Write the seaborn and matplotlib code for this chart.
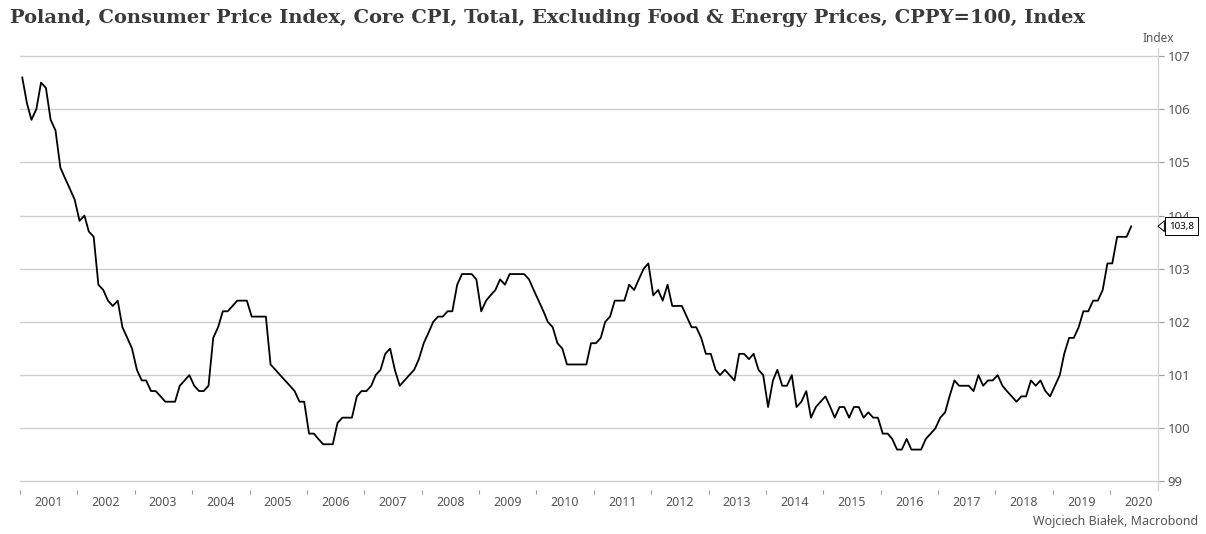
import matplotlib

matplotlib.use("Agg")

import matplotlib.dates as mdates
import matplotlib.pyplot as plt
import matplotlib.ticker as mticker
import pandas as pd
import seaborn as sns


TITLE = "Poland, Consumer Price Index, Core CPI, Total, Excluding Food & Energy Prices, CPPY=100, Index"
SOURCE = "Wojciech Białek, Macrobond"
UNIT_LABEL = "Index"
START_MONTH = "2001-01"

# monthly values, CPPY=100
CPI_2001 = [106.6, 106.1, 105.8, 106.0, 106.5, 106.4, 105.8, 105.6, 104.9, 104.7, 104.5, 104.3]
CPI_2002 = [103.9, 104.0, 103.7, 103.6, 102.7, 102.6, 102.4, 102.3, 102.4, 101.9, 101.7, 101.5]
CPI_2003 = [101.1, 100.9, 100.9, 100.7, 100.7, 100.6, 100.5, 100.5, 100.5, 100.8, 100.9, 101.0]
CPI_2004 = [100.8, 100.7, 100.7, 100.8, 101.7, 101.9, 102.2, 102.2, 102.3, 102.4, 102.4, 102.4]
CPI_2005 = [102.1, 102.1, 102.1, 102.1, 101.2, 101.1, 101.0, 100.9, 100.8, 100.7, 100.5, 100.5]
CPI_2006 = [99.9, 99.9, 99.8, 99.7, 99.7, 99.7, 100.1, 100.2, 100.2, 100.2, 100.6, 100.7]
CPI_2007 = [100.7, 100.8, 101.0, 101.1, 101.4, 101.5, 101.1, 100.8, 100.9, 101.0, 101.1, 101.3]
CPI_2008 = [101.6, 101.8, 102.0, 102.1, 102.1, 102.2, 102.2, 102.7, 102.9, 102.9, 102.9, 102.8]
CPI_2009 = [102.2, 102.4, 102.5, 102.6, 102.8, 102.7, 102.9, 102.9, 102.9, 102.9, 102.8, 102.6]
CPI_2010 = [102.4, 102.2, 102.0, 101.9, 101.6, 101.5, 101.2, 101.2, 101.2, 101.2, 101.2, 101.6]
CPI_2011 = [101.6, 101.7, 102.0, 102.1, 102.4, 102.4, 102.4, 102.7, 102.6, 102.8, 103.0, 103.1]
CPI_2012 = [102.5, 102.6, 102.4, 102.7, 102.3, 102.3, 102.3, 102.1, 101.9, 101.9, 101.7, 101.4]
CPI_2013 = [101.4, 101.1, 101.0, 101.1, 101.0, 100.9, 101.4, 101.4, 101.3, 101.4, 101.1, 101.0]
CPI_2014 = [100.4, 100.9, 101.1, 100.8, 100.8, 101.0, 100.4, 100.5, 100.7, 100.2, 100.4, 100.5]
CPI_2015 = [100.6, 100.4, 100.2, 100.4, 100.4, 100.2, 100.4, 100.4, 100.2, 100.3, 100.2, 100.2]
CPI_2016 = [99.9, 99.9, 99.8, 99.6, 99.6, 99.8, 99.6, 99.6, 99.6, 99.8, 99.9, 100.0]
CPI_2017 = [100.2, 100.3, 100.6, 100.9, 100.8, 100.8, 100.8, 100.7, 101.0, 100.8, 100.9, 100.9]
CPI_2018 = [101.0, 100.8, 100.7, 100.6, 100.5, 100.6, 100.6, 100.9, 100.8, 100.9, 100.7, 100.6]
CPI_2019 = [100.8, 101.0, 101.4, 101.7, 101.7, 101.9, 102.2, 102.2, 102.4, 102.4, 102.6, 103.1]
CPI_2020 = [103.1, 103.6, 103.6, 103.6, 103.8]

Y_TICKS = [99, 100, 101, 102, 103, 104, 105, 106, 107]


def build_frame() -> pd.DataFrame:
    values = (
        CPI_2001 + CPI_2002 + CPI_2003 + CPI_2004 + CPI_2005 + CPI_2006 + CPI_2007
        + CPI_2008 + CPI_2009 + CPI_2010 + CPI_2011 + CPI_2012 + CPI_2013 + CPI_2014
        + CPI_2015 + CPI_2016 + CPI_2017 + CPI_2018 + CPI_2019 + CPI_2020
    )
    dates = pd.date_range(START_MONTH, periods=len(values), freq="MS") + pd.Timedelta(days=14)
    return pd.DataFrame({"date": dates, "value": values})


def main() -> None:
    df = build_frame()

    sns.set_theme(style="white")
    plt.rcParams["font.family"] = ["Noto Sans", "DejaVu Sans"]

    fig = plt.figure(figsize=(12.06, 5.34), dpi=100)
    ax = fig.add_axes([20 / 1206, 44 / 534, 1138 / 1206, 442 / 534])

    sns.lineplot(data=df, x="date", y="value", color="black", linewidth=1.3, ax=ax)

    ax.set_xlim(pd.Timestamp("2001-01-01"), pd.Timestamp("2020-11-01"))
    ax.set_ylim(98.84, 107.15)
    ax.set_xlabel("")
    ax.set_ylabel("")

    # right-hand value axis
    ax.yaxis.tick_right()
    ax.set_yticks(Y_TICKS)
    ax.grid(axis="y", color="#cfcfcf", linewidth=1.0)
    ax.grid(axis="x", visible=False)
    ax.tick_params(axis="y", right=True, length=4, width=0.8, color="#9a9a9a",
                   labelcolor="#555555", labelsize=9.5, pad=3)

    # years: ticks at year starts, labels centred in each year
    ax.xaxis.set_major_locator(mdates.YearLocator())
    ax.xaxis.set_major_formatter(mticker.NullFormatter())
    ax.xaxis.set_minor_locator(mdates.MonthLocator(bymonth=7, bymonthday=1))
    ax.xaxis.set_minor_formatter(mdates.DateFormatter("%Y"))
    ax.tick_params(axis="x", which="major", bottom=True, length=3, width=0.8, color="#9a9a9a")
    ax.tick_params(axis="x", which="minor", bottom=True, length=0, labelcolor="#555555",
                   labelsize=9, pad=4)

    for side in ["left", "top", "bottom"]:
        ax.spines[side].set_visible(False)
    ax.spines["right"].set_color("#d5d5d5")
    ax.spines["right"].set_linewidth(1.0)

    last = df["value"].iloc[-1]
    ax.annotate(
        f"{last:.1f}".replace(".", ","),
        xy=(1.0, last), xycoords=("axes fraction", "data"),
        xytext=(8, 0), textcoords="offset points",
        ha="left", va="center", fontsize=7, color="black",
        bbox=dict(boxstyle="square,pad=0.45", fc="white", ec="black", lw=0.7),
        arrowprops=dict(arrowstyle="wedge,tail_width=1.1", fc="white", ec="black", lw=0.7,
                        shrinkA=0, shrinkB=0),
        annotation_clip=False, zorder=5,
    )

    fig.text(10 / 1206, 1 - 18 / 534, TITLE, ha="left", va="center", fontsize=14,
             fontweight="bold", family=["DejaVu Serif"], color="#3a3a3a")
    fig.text(1158 / 1206, 1 - 38 / 534, UNIT_LABEL, ha="center", va="center", fontsize=8.5,
             color="#555555")
    fig.text(1198 / 1206, 1 - 522 / 534, SOURCE, ha="right", va="center", fontsize=9,
             color="#555555")

    fig.savefig("out.png", dpi=100)
    plt.close(fig)


if __name__ == "__main__":
    main()
